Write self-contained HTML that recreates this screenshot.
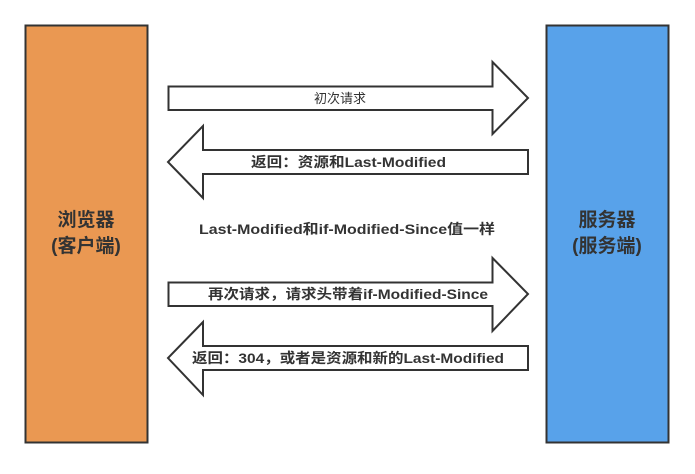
<!DOCTYPE html>
<html><head><meta charset="utf-8"><style>
body{margin:0;background:#fff;}
svg text{font-family:"Liberation Sans","Noto Sans CJK SC",sans-serif;fill:#333;}
</style></head><body>
<svg width="695" height="469" viewBox="0 0 695 469">
<rect x="25.5" y="25.5" width="122" height="417" fill="#EA9852" stroke="#333" stroke-width="2"/>
<rect x="546.5" y="25.5" width="122" height="417" fill="#58A2EA" stroke="#333" stroke-width="2"/>
<text x="86" y="226" font-size="19" font-weight="bold" text-anchor="middle">浏览器</text>
<text x="86" y="252" font-size="19" font-weight="bold" text-anchor="middle">(客户端)</text>
<text x="607" y="226" font-size="19" font-weight="bold" text-anchor="middle">服务器</text>
<text x="607" y="252" font-size="19" font-weight="bold" text-anchor="middle">(服务端)</text>
<g fill="#fff" stroke="#333" stroke-width="2">
<polygon points="168.5,86.5 492.5,86.5 492.5,62 528,98 492.5,134 492.5,110 168.5,110"/>
<polygon points="528,150 203,150 203,126 168,162 203,198 203,174 528,174"/>
<polygon points="168.5,282.5 492.5,282.5 492.5,258 528,294 492.5,331 492.5,306 168.5,306"/>
<polygon points="528,346 203,346 203,322 168,358 203,395 203,370 528,370"/>
</g>
<text x="340" y="103" font-size="13" text-anchor="middle">初次请求</text>
<text x="251" y="167" font-size="14" font-weight="bold" textLength="195" lengthAdjust="spacingAndGlyphs">返回：资源和Last-Modified</text>
<text x="199" y="234" font-size="14" font-weight="bold" textLength="296" lengthAdjust="spacingAndGlyphs">Last-Modified和if-Modified-Since值一样</text>
<text x="208" y="299" font-size="14" font-weight="bold" textLength="280" lengthAdjust="spacingAndGlyphs">再次请求，请求头带着if-Modified-Since</text>
<text x="192" y="363" font-size="14" font-weight="bold" textLength="312" lengthAdjust="spacingAndGlyphs">返回：304，或者是资源和新的Last-Modified</text>
</svg>
</body></html>
